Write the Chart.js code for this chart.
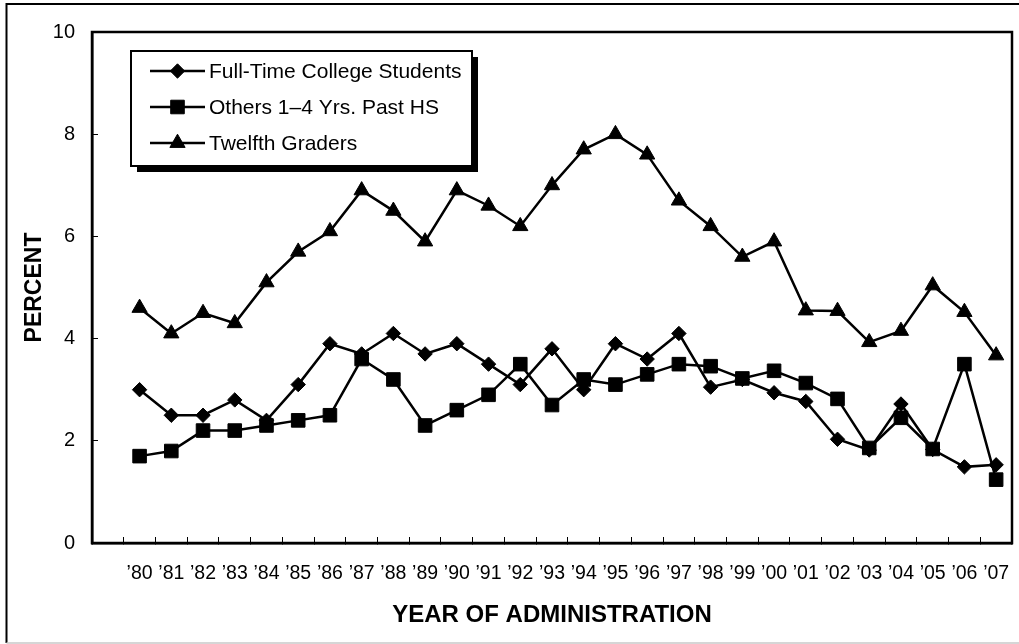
<!DOCTYPE html>
<html>
<head>
<meta charset="utf-8">
<script src="https://cdn.jsdelivr.net/npm/chart.js@4.4.1/dist/chart.umd.min.js"></script>
<style>
html,body{margin:0;padding:0;background:#fff;}
#wrap{position:relative;width:1019px;height:644px;}
</style>
</head>
<body>
<div id="wrap"><canvas id="c" width="1019" height="644"></canvas></div>
<script>
// ---- data ----
const years = ["’80","’81","’82","’83","’84","’85","’86","’87","’88","’89","’90","’91","’92","’93","’94","’95","’96","’97","’98","’99","’00","’01","’02","’03","’04","’05","’06","’07"];
const fullTimeCollege = [3.0,2.5,2.5,2.8,2.4,3.1,3.9,3.7,4.1,3.7,3.9,3.5,3.1,3.8,3.0,3.9,3.6,4.1,3.05,3.2,2.94,2.77,2.03,1.82,2.72,1.83,1.49,1.53];
const othersPastHS = [1.7,1.8,2.2,2.2,2.3,2.4,2.5,3.6,3.2,2.3,2.6,2.9,3.5,2.7,3.2,3.1,3.3,3.5,3.46,3.22,3.37,3.13,2.82,1.86,2.45,1.84,3.5,1.24];
const twelfthGraders = [4.6,4.1,4.5,4.3,5.1,5.7,6.1,6.9,6.5,5.9,6.9,6.6,6.2,7.0,7.7,8.0,7.6,6.7,6.2,5.6,5.9,4.55,4.54,3.93,4.15,5.04,4.52,3.67];
const seriesNames = ["Full-Time College Students","Others 1–4 Yrs. Past HS","Twelfth Graders"];
const yTickValues = [0,2,4,6,8,10];
const yTitle = "PERCENT";
const xTitle = "YEAR OF ADMINISTRATION";

const FONT = "'Liberation Sans', Arial, Helvetica, sans-serif";
// one empty slot before the first year, as in the original
const labels = [""].concat(years);
const pad = arr => [null].concat(arr);

const frame = {
  id: 'frame',
  beforeDraw(chart) {
    const ctx = chart.ctx;
    ctx.save();
    ctx.fillStyle = '#fff';
    ctx.fillRect(0, 0, chart.width, chart.height);
    ctx.strokeStyle = '#000';
    ctx.lineWidth = 2;
    ctx.beginPath();
    ctx.moveTo(6.5, 643);
    ctx.lineTo(6.5, 4);
    ctx.lineTo(chart.width, 4);
    ctx.stroke();
    ctx.strokeStyle = '#c8c8c8';
    ctx.lineWidth = 1.5;
    ctx.beginPath();
    ctx.moveTo(6.5, 643);
    ctx.lineTo(chart.width, 643);
    ctx.stroke();
    ctx.restore();
  },
  afterDatasetsDraw(chart) {
    const a = chart.chartArea, ctx = chart.ctx;
    ctx.save();
    ctx.strokeStyle = '#000';
    ctx.lineWidth = 2.5;
    ctx.strokeRect(a.left, a.top, a.right - a.left, a.bottom - a.top);
    ctx.restore();
  }
};

const boxLegend = {
  id: 'boxLegend',
  afterDraw(chart) {
    const a = chart.chartArea, ctx = chart.ctx;
    const left = a.left + 39, top = a.top + 19, w = 341, h = 115;
    ctx.save();
    ctx.fillStyle = '#000';
    ctx.fillRect(left + 6, top + 6, w, h);
    ctx.fillStyle = '#fff';
    ctx.fillRect(left, top, w, h);
    ctx.strokeStyle = '#000';
    ctx.lineWidth = 2;
    ctx.strokeRect(left, top, w, h);
    chart.data.datasets.forEach((ds, i) => {
      const y = top + 20 + i * 36;
      const x0 = left + 19, x1 = left + 74, xm = (x0 + x1) / 2;
      ctx.strokeStyle = ds.borderColor;
      ctx.lineWidth = ds.borderWidth;
      ctx.beginPath();
      ctx.moveTo(x0, y);
      ctx.lineTo(x1, y);
      ctx.stroke();
      ctx.fillStyle = ds.pointBackgroundColor;
      ctx.strokeStyle = ds.pointBorderColor;
      ctx.lineWidth = 1;
      Chart.helpers.drawPoint(ctx, {pointStyle: ds.pointStyle, radius: ds.pointRadius, borderWidth: 1, rotation: 0}, xm, y);
      ctx.fillStyle = '#000';
      ctx.font = "21px " + FONT;
      ctx.textBaseline = 'middle';
      ctx.textAlign = 'left';
      ctx.fillText(ds.label, x1 + 4, y + 1);
    });
    ctx.restore();
  }
};

function series(label, data, style, radius) {
  return {
    label: label,
    data: pad(data),
    borderColor: '#000',
    backgroundColor: '#000',
    borderWidth: 2.5,
    pointStyle: style,
    pointRadius: radius,
    pointBackgroundColor: '#000',
    pointBorderColor: '#000',
    pointBorderWidth: 1,
    tension: 0,
    spanGaps: false
  };
}

new Chart(document.getElementById('c'), {
  type: 'line',
  data: {
    labels: labels,
    datasets: [
      series(seriesNames[0], fullTimeCollege, 'rectRot', 7.2),
      series(seriesNames[1], othersPastHS, 'rect', 9.6),
      series(seriesNames[2], twelfthGraders, 'triangle', 8.8)
    ]
  },
  options: {
    responsive: false,
    animation: false,
    events: [],
    layout: { autoPadding: false, padding: { top: 32, right: 7, left: 0, bottom: 0 } },
    plugins: { legend: { display: false }, tooltip: { enabled: false }, title: { display: false } },
    scales: {
      x: {
        type: 'category',
        offset: true,
        grid: { offset: true, drawOnChartArea: false, drawTicks: true, tickLength: -6, color: '#000', lineWidth: 1 },
        border: { display: true, color: '#000', width: 2.5 },
        ticks: { color: '#000', font: { family: FONT, size: 19.5 }, padding: 25, maxRotation: 0, autoSkip: false },
        title: { display: true, text: xTitle, color: '#000', font: { family: FONT, size: 24, weight: 'bold' }, padding: { top: 0, bottom: 14 } },
        afterFit(s) { s.height = 101; s.paddingLeft = 0; s.paddingRight = 0; }
      },
      y: {
        min: 0, max: 10,
        afterBuildTicks(s) { s.ticks = yTickValues.map(v => ({ value: v })); },
        grid: { drawOnChartArea: false, drawTicks: true, tickLength: -6, color: '#000', lineWidth: 1 },
        border: { display: true, color: '#000', width: 2.5 },
        ticks: { color: '#000', font: { family: FONT, size: 20 }, padding: 23 },
        title: { display: true, text: yTitle, color: '#000', font: { family: FONT, size: 23, weight: 'bold' }, padding: { top: 21, bottom: 0 } },
        afterFit(s) { s.width = 92; s.paddingTop = 0; s.paddingBottom = 0; }
      }
    }
  },
  plugins: [frame, boxLegend]
});
</script>
</body>
</html>
